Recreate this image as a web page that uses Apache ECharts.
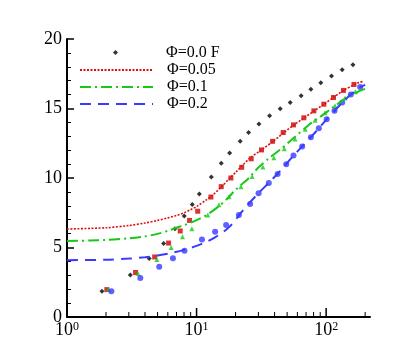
<!DOCTYPE html>
<html>
<head>
<meta charset="utf-8">
<script src="https://cdn.jsdelivr.net/npm/echarts@6/dist/echarts.min.js"></script>
<style>
  html, body { margin: 0; padding: 0; background: #fff; }
  #chart { width: 407px; height: 362px; }
</style>
</head>
<body>
<div id="chart"></div>
<script>
  // scatter points, phi = 0.0 F
  var blackX = [1.86, 3.08, 4.31, 5.57, 6.81, 8.03, 9.26, 10.5, 13.0, 15.5, 18.0, 21.7, 25.2, 30.3, 36.6, 44.2, 52.8, 64.1, 76.2, 91.0, 110, 133, 161]
  var blackY = [1.85, 3.03, 4.21, 5.29, 6.35, 7.26, 8.10, 8.85, 10.07, 11.06, 11.8, 12.64, 13.27, 13.89, 14.47, 14.98, 15.43, 15.91, 16.39, 16.85, 17.33, 17.79, 18.15]

  // phi = 0.05
  var redLineX = [1, 2, 3, 4, 5, 6, 7, 8, 9, 10, 12, 13, 15.5, 18, 20, 22, 26, 32, 39, 47, 56, 67, 80, 96, 114, 136, 160, 180, 195]
  var redLineY = [6.33, 6.42, 6.58, 6.76, 6.95, 7.13, 7.3, 7.5, 7.72, 7.95, 8.45, 8.68, 9.35, 9.98, 10.4, 10.8, 11.45, 12.05, 12.64, 13.25, 13.8, 14.3, 14.8, 15.3, 15.8, 16.3, 16.65, 16.88, 16.95]
  var redPtsX = [2.03, 3.38, 4.75, 6.08, 7.48, 8.83, 10.2, 12.9, 15.5, 18.4, 22.3, 26.4, 31.7, 38.6, 46.6, 56.0, 67.3, 80.4, 96.0, 114, 136, 164]
  var redPtsY = [1.97, 3.20, 4.32, 5.32, 6.19, 6.95, 7.61, 8.63, 9.38, 10.0, 10.77, 11.38, 12.02, 12.64, 13.27, 13.82, 14.33, 14.83, 15.31, 15.79, 16.30, 16.73]

  // phi = 0.1
  var greenLineX = [1, 1.5, 2, 3, 4, 5, 6, 7, 8, 10, 12, 15, 17.6, 20, 22, 24.4, 27, 30, 36, 45, 55, 73, 90, 110, 135, 157, 180, 205]
  var greenLineY = [5.47, 5.5, 5.55, 5.66, 5.8, 5.98, 6.2, 6.42, 6.6, 6.97, 7.35, 8.0, 8.6, 9.15, 9.5, 9.85, 10.3, 10.75, 11.4, 12.1, 12.8, 13.8, 14.4, 15.0, 15.6, 15.95, 16.25, 16.45]
  var greenPtsX = [2.09, 3.53, 4.94, 6.37, 7.79, 9.2, 12.2, 14.9, 17.8, 22.0, 26.8, 32.5, 39.5, 47.5, 57.5, 69, 82, 98, 117, 140, 168]
  var greenPtsY = [1.98, 3.13, 4.14, 5.0, 5.77, 6.34, 7.33, 8.07, 8.65, 9.37, 10.1, 10.8, 11.45, 12.1, 12.8, 13.5, 14.15, 14.7, 15.2, 15.75, 16.2]

  // phi = 0.2
  var blueLineX = [1, 2, 3, 4, 5, 6, 8, 10, 12, 14, 16, 18, 20, 22, 25, 30, 36, 42, 49, 56, 65, 76, 88, 101, 116, 133, 155, 180, 200]
  var blueLineY = [4.09, 4.12, 4.2, 4.3, 4.42, 4.55, 4.83, 5.12, 5.42, 5.75, 6.1, 6.5, 7.0, 7.5, 8.1, 8.9, 9.64, 10.29, 10.99, 11.61, 12.26, 12.93, 13.58, 14.23, 14.83, 15.43, 16.0, 16.5, 16.7]
  var bluePtsX = [2.2, 3.68, 5.15, 6.57, 8.07, 11.0, 13.9, 16.9, 21.2, 25.9, 30.1, 36.1, 42.2, 49.2, 56, 65.3, 76.2, 87.8, 101, 116, 133, 155, 183]
  var bluePtsY = [1.85, 2.81, 3.61, 4.23, 4.76, 5.58, 6.13, 6.61, 7.33, 8.13, 8.9, 9.64, 10.29, 10.99, 11.61, 12.26, 12.93, 13.58, 14.23, 14.83, 15.43, 16.0, 16.54]

  // x axis ticks (log axis, drawn by hand so 2..9 show up)
  var xTicks = [2, 3, 4, 5, 6, 7, 8, 9, 10, 20, 30, 40, 50, 60, 70, 80, 90, 100, 200]

  var names = ['Φ=0.0 F', 'Φ=0.05', 'Φ=0.1', 'Φ=0.2']
  var serif = 'Liberation Serif'

  function zip(xs, ys) {
    return xs.map(function(x, i) { return [x, ys[i]] })
  }

  function isPow10(v) {
    var e = Math.log10(v)
    return Math.abs(e - Math.round(e)) < 1e-6
  }

  var chart = echarts.init(document.getElementById('chart'))
  chart.setOption({
    animation: false,
    grid: { left: 67, right: 37, top: 39, bottom: 45 },
    legend: [
      {
        // the F marker sits alone in the middle of the line slot
        data: [names[0]],
        left: 113,
        top: 44,
        padding: 0,
        itemWidth: 5,
        itemHeight: 5,
        textStyle: { fontFamily: serif, fontSize: 16, color: '#000', padding: [0, 0, 0, 43], lineHeight: 17 }
      },
      {
        data: names.slice(1),
        orient: 'vertical',
        left: 79,
        top: 61.5,
        padding: 0,
        itemWidth: 73,
        itemHeight: 17,
        itemGap: 0,
        itemStyle: { opacity: 0 },
        textStyle: { fontFamily: serif, fontSize: 16, color: '#000', padding: [0, 0, 0, 9], lineHeight: 17 }
      }
    ],
    xAxis: {
      type: 'log',
      logBase: 10,
      min: 1,
      max: 218,
      splitLine: { show: false },
      axisTick: { show: false },
      axisLine: { lineStyle: { color: '#000', width: 2 } },
      axisLabel: {
        margin: 4,
        color: '#000',
        formatter: function(v) {
          if (!isPow10(v)) return ''
          return '{b|10}{s|' + Math.round(Math.log10(v)) + '}'
        },
        rich: {
          b: { fontFamily: serif, fontSize: 18, color: '#000' },
          s: { fontFamily: serif, fontSize: 12, color: '#000', verticalAlign: 'top' }
        }
      }
    },
    yAxis: {
      type: 'value',
      min: 0,
      max: 20,
      interval: 5,
      splitLine: { show: false },
      axisLine: { show: true, lineStyle: { color: '#000', width: 2 } },
      axisTick: { show: true, inside: true, length: 7, lineStyle: { color: '#000', width: 1.5 } },
      minorTick: { show: true, splitNumber: 5, length: 4, lineStyle: { color: '#000', width: 1 } },
      axisLabel: { margin: 5, color: '#000', fontFamily: serif, fontSize: 18 }
    },
    series: [
      {
        name: names[0],
        type: 'scatter',
        symbol: 'diamond',
        symbolSize: 5,
        itemStyle: { color: '#000' },
        data: zip(blackX, blackY)
      },
      {
        name: names[1],
        type: 'line',
        symbol: 'none',
        smooth: 0.3,
        lineStyle: { color: '#e01010', width: 1.6, type: [2, 1.5] },
        itemStyle: { color: '#e01010' },
        data: zip(redLineX, redLineY)
      },
      {
        name: names[2],
        type: 'line',
        symbol: 'none',
        smooth: 0.3,
        lineStyle: { color: '#18c818', width: 2, type: [11, 4, 2, 4] },
        itemStyle: { color: '#18c818' },
        data: zip(greenLineX, greenLineY)
      },
      {
        name: names[3],
        type: 'line',
        symbol: 'none',
        smooth: 0.3,
        lineStyle: { color: '#3a3aff', width: 2, type: [11, 7] },
        itemStyle: { color: '#3a3aff' },
        data: zip(blueLineX, blueLineY)
      },
      {
        name: 'red points',
        type: 'scatter',
        symbol: 'rect',
        symbolSize: 5,
        itemStyle: { color: '#d00000' },
        data: zip(redPtsX, redPtsY)
      },
      {
        name: 'green points',
        type: 'scatter',
        symbol: 'triangle',
        symbolSize: 5,
        itemStyle: { color: '#18c818' },
        data: zip(greenPtsX, greenPtsY)
      },
      {
        name: 'blue points',
        type: 'scatter',
        symbol: 'circle',
        symbolSize: 6,
        itemStyle: { color: '#3a3aff' },
        data: zip(bluePtsX, bluePtsY)
      },
      {
        name: 'x ticks',
        type: 'custom',
        silent: true,
        z: 10,
        renderItem: function(params, api) {
          var v = api.value(0)
          var p = api.coord([v, 0])
          var major = isPow10(v)
          var len = major ? 8 : 4
          return {
            type: 'line',
            shape: { x1: p[0], y1: p[1] - 1, x2: p[0], y2: p[1] - 1 - len },
            style: { stroke: '#000', lineWidth: major ? 1.5 : 1 }
          }
        },
        data: xTicks.map(function(v) { return [v, 0] })
      }
    ]
  })
</script>
</body>
</html>
